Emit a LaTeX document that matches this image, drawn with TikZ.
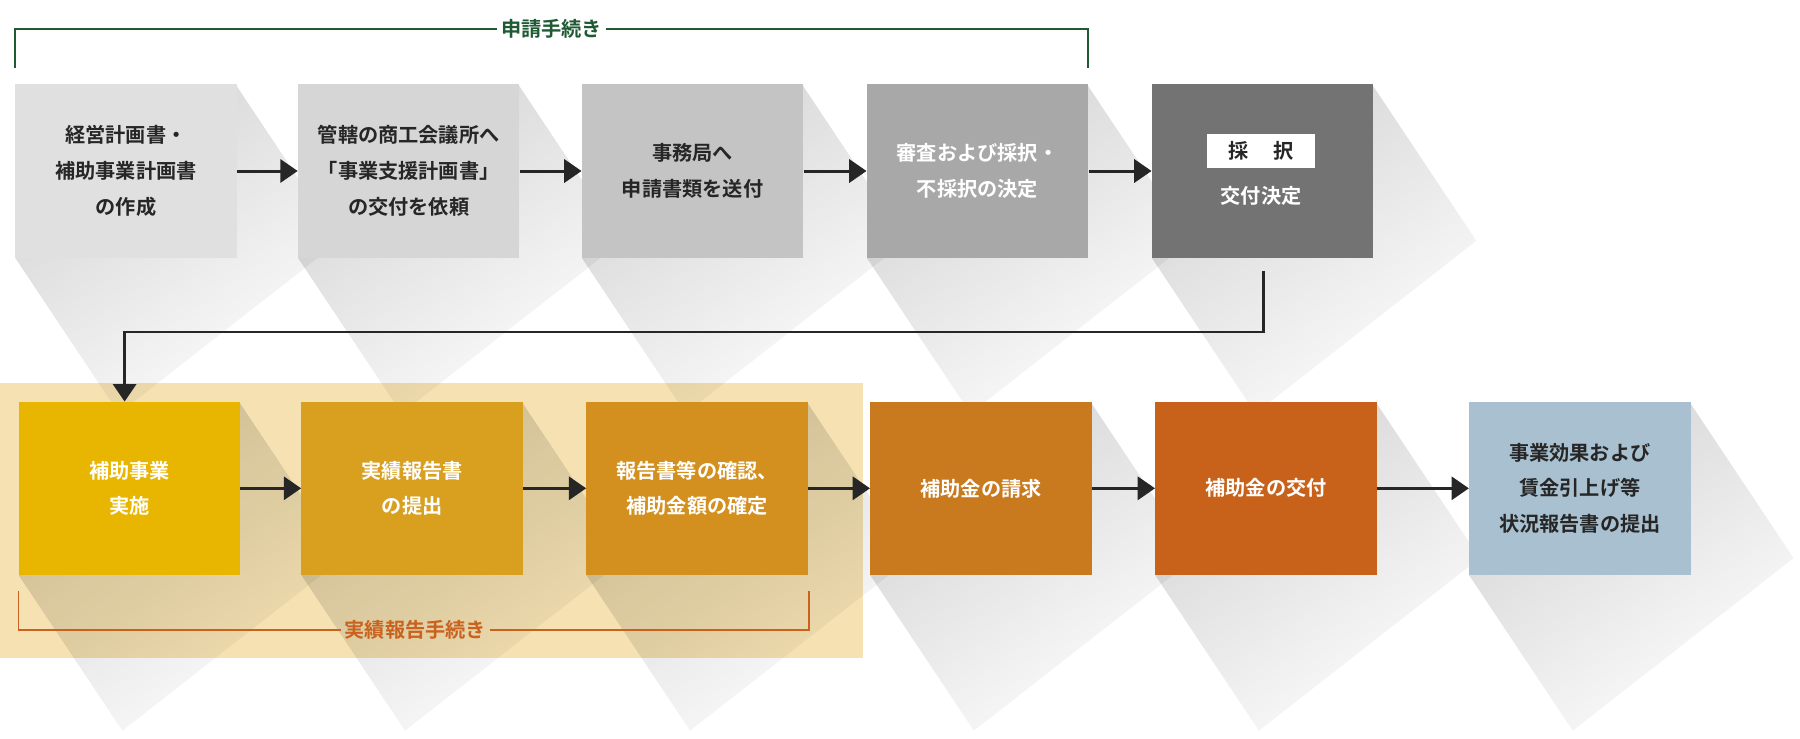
\documentclass[tikz,border=0pt]{standalone}
\usepackage{fontspec}
\newfontfamily\jp{Noto Sans CJK JP Bold}
\usetikzlibrary{fadings,arrows.meta}
\begin{tikzfadingfrompicture}[name=shfade]
\shade[top color=transparent!20, bottom color=transparent!100] (0,0) rectangle (2,2);
\end{tikzfadingfrompicture}
\begin{document}
\begin{tikzpicture}[x=1pt,y=-1pt,
  bx/.style={minimum width=192pt,minimum height=150pt,inner sep=0pt,anchor=north west,align=center,font=\jp\fontsize{17.5}{31}\selectfont},
  arr/.style={line width=2.6pt,-{Triangle[length=15pt,width=20pt]}},
  shd/.style={fill=black,opacity=0.22,path fading=shfade,fading angle=35,fit fading=true}]
\useasboundingbox (0,0) rectangle (1560,640);
\fill[white] (0,0) rectangle (1560,640);
\definecolor{bg}{HTML}{F5E1B2}
\fill[bg] (0,332) rectangle (748,570);
% shadows
\foreach \x/\y in {13/73,258/73,504/73,751/73,998/73,16/348,261/348,508/348,754/348,1001/348,1273/348}{
  \fill[shd] (\x+192,\y) -- (\x,\y+150) -- (\x+90,\y+285) -- (\x+282,\y+135) -- cycle;
}
\node[bx,fill={rgb,255:red,224;green,224;blue,224},text=black!85] (a1) at (13,73) {経営計画書・\\補助事業計画書\\の作成};
\node[bx,fill={rgb,255:red,214;green,214;blue,214},text=black!85] (a2) at (258,73) {管轄の商工会議所へ\\「事業支援計画書」\\の交付を依頼};
\node[bx,fill={rgb,255:red,196;green,196;blue,196},text=black!85] (a3) at (504,73) {事務局へ\\申請書類を送付};
\node[bx,fill={rgb,255:red,168;green,168;blue,168},text=white] (a4) at (751,73) {審査および採択・\\不採択の決定};
\node[bx,fill={rgb,255:red,115;green,115;blue,115}] (a5) at (998,73) {};
\node[fill=white,minimum width=94pt,minimum height=30pt,inner sep=0pt,font=\jp\fontsize{17.5}{20}\selectfont,text=black!85] (saitaku) at (1093,131) {採\hspace{1.2em}択};
\node[text=white,font=\jp\fontsize{17.5}{20}\selectfont] (kofu) at (1093,170) {交付決定};
\node[bx,fill={rgb,255:red,232;green,181;blue,0},text=white] (b1) at (16,348) {補助事業\\実施};
\node[bx,fill={rgb,255:red,217;green,160;blue,32},text=white] (b2) at (261,348) {実績報告書\\の提出};
\node[bx,fill={rgb,255:red,212;green,144;blue,30},text=white] (b3) at (508,348) {報告書等の確認、\\補助金額の確定};
\node[bx,fill={rgb,255:red,201;green,122;blue,30},text=white] (b4) at (754,348) {補助金の請求};
\node[bx,fill={rgb,255:red,200;green,98;blue,26},text=white] (b5) at (1001,348) {補助金の交付};
\node[bx,fill={rgb,255:red,168;green,192;blue,207},text=black!85] (b6) at (1273,348) {事業効果および\\賃金引上げ等\\状況報告書の提出};
\foreach \p/\q in {a1/a2,a2/a3,a3/a4,a4/a5,b1/b2,b2/b3,b3/b4,b4/b5,b5/b6}
  \draw[arr,black!85] (\p.east) -- (\q.west);
\coordinate (c0) at (1095,235);
\draw[arr,black!85,line width=2pt] (c0) |- (108,288) -- (b1.north -| 108,0);
% brackets
\definecolor{grn}{HTML}{1F5A34}
\definecolor{org}{HTML}{C9621E}
\node[text=grn,font=\jp\fontsize{17.5}{20}\selectfont] (l1) at (478,25) {申請手続き};
\draw[grn,line width=1.6pt] (l1.west) -- (13,25) -- (13,59);
\draw[grn,line width=1.6pt] (l1.east) -- (943,25) -- (943,59);
\node[text=org,font=\jp\fontsize{17.5}{20}\selectfont] (l2) at (360,546) {実績報告手続き};
\draw[org,line width=1.6pt] (l2.west) -- (16,546) -- (16,512);
\draw[org,line width=1.6pt] (l2.east) -- (701,546) -- (701,512);
\end{tikzpicture}
\end{document}
